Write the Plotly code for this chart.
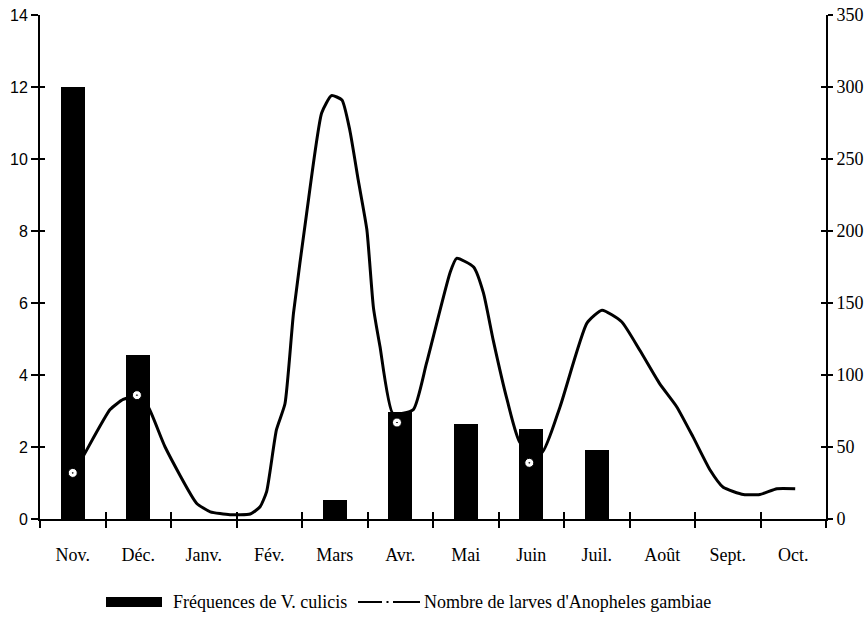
import plotly.graph_objects as go

# ---- data ----
months = ["Nov.", "Déc.", "Janv.", "Fév.", "Mars", "Avr.", "Mai", "Juin",
          "Juil.", "Août", "Sept.", "Oct."]
month_pos = list(range(len(months)))
freq_culicis = [12.0, 4.55, 0, 0, 0.53, 2.97, 2.64, 2.5, 1.92, 0, 0, 0]

# larvae curve (position in months, value on right axis)
larvae_x = [0.00, 0.14, 0.57, 0.77, 0.98, 1.15, 1.41, 1.89, 2.10, 2.40, 2.71,
            2.86, 2.96, 3.11, 3.24, 3.37, 3.57, 3.80, 3.95, 4.11, 4.23, 4.36,
            4.49, 4.59, 4.69, 4.89, 5.20, 5.40, 5.76, 5.86, 6.12, 6.27, 6.42,
            6.63, 6.83, 7.16, 7.44, 7.85, 8.08, 8.38, 8.66, 8.96, 9.22, 9.47,
            9.73, 9.93, 10.24, 10.49, 10.75, 11.03]
larvae_y = [32, 42, 76, 83, 85, 78, 50, 11, 5, 3, 3.5,
            8.5, 19, 62, 80, 143, 212, 282, 294, 291, 270, 235,
            201, 147, 120, 73, 76, 108, 171, 181, 175, 157, 124,
            83, 53, 46, 78, 136, 145, 137, 117, 94, 78, 57,
            34, 22, 17, 17, 21, 21]

# observation points (white markers)
obs_x = [0.0, 0.98, 4.95, 6.97]
obs_y = [32, 86, 67, 39]

left_ticks = [0, 2, 4, 6, 8, 10, 12, 14]
right_ticks = [0, 50, 100, 150, 200, 250, 300, 350]
boundaries = [i - 0.5 for i in range(len(months) + 1)]

legend_bar = "Fréquences de V. culicis"
legend_line = "Nombre de larves d'Anopheles gambiae"

SERIF = "Liberation Serif, Times New Roman, serif"
SANS = "Liberation Sans, Arial, sans-serif"

fig = go.Figure()

fig.add_trace(go.Scatter(
    x=larvae_x, y=larvae_y, mode="lines", xaxis="x", yaxis="y",
    line=dict(color="black", width=3, shape="spline", smoothing=0.5),
    showlegend=False, hoverinfo="skip"))

fig.add_trace(go.Bar(
    x=month_pos, y=freq_culicis, xaxis="x", yaxis="y2", width=0.37,
    marker=dict(color="black", line=dict(width=0)), showlegend=False))

fig.add_trace(go.Scatter(
    x=obs_x, y=obs_y, mode="markers", xaxis="x", yaxis="y3",
    marker=dict(symbol="circle-dot", size=9, color="white",
                line=dict(color="black", width=1)),
    showlegend=False, hoverinfo="skip"))

# empty traces to activate the inside-tick overlay axes
fig.add_trace(go.Scatter(x=[], y=[], xaxis="x2", yaxis="y", showlegend=False))
fig.add_trace(go.Scatter(x=[], y=[], xaxis="x", yaxis="y4", showlegend=False))

xr = [-0.5, len(months) - 0.5]

fig.update_layout(
    width=865, height=618,
    margin=dict(l=40, r=39, t=15, b=99),
    paper_bgcolor="white", plot_bgcolor="white",
    showlegend=False,
    bargap=0,
    xaxis=dict(
        range=xr, tickmode="array", tickvals=month_pos, ticktext=months,
        ticks="", showgrid=False, zeroline=False, automargin=False,
        showline=True, linecolor="black", linewidth=2,
        tickfont=dict(family=SERIF, size=18, color="black"),
        ticklabelstandoff=18,
        minor=dict(tickmode="array", tickvals=boundaries, ticks="outside",
                   ticklen=7, tickwidth=2, tickcolor="black", showgrid=False),
        anchor="y"),
    xaxis2=dict(
        range=xr, overlaying="x", anchor="y", side="bottom", automargin=False,
        tickmode="array", tickvals=boundaries, ticks="inside",
        ticklen=7, tickwidth=2, tickcolor="black",
        showticklabels=False, showgrid=False, zeroline=False, showline=False),
    yaxis=dict(
        range=[0, 350], side="right", anchor="x", automargin=False,
        tickmode="array", tickvals=right_ticks, ticks="outside",
        ticklen=5, tickwidth=2, tickcolor="black",
        showline=True, linecolor="black", linewidth=2,
        showgrid=False, zeroline=False,
        tickfont=dict(family=SERIF, size=18, color="black")),
    yaxis2=dict(
        range=[0, 14], side="left", overlaying="y", anchor="x", automargin=False,
        tickmode="array", tickvals=left_ticks, ticks="outside",
        ticklen=7, tickwidth=2, tickcolor="black",
        showline=True, linecolor="black", linewidth=2,
        showgrid=False, zeroline=False,
        tickfont=dict(family=SANS, size=16, color="black")),
    yaxis3=dict(
        range=[0, 350], side="right", overlaying="y", anchor="x", automargin=False,
        tickmode="array", tickvals=right_ticks, ticks="inside",
        ticklen=5, tickwidth=2, tickcolor="black",
        showticklabels=False, showline=False, showgrid=False, zeroline=False),
    yaxis4=dict(
        range=[0, 14], side="left", overlaying="y", anchor="x", automargin=False,
        tickmode="array", tickvals=left_ticks, ticks="inside",
        ticklen=5, tickwidth=2, tickcolor="black",
        showticklabels=False, showline=False, showgrid=False, zeroline=False),
)

# ---- custom legend (bottom) ----
def px_x(p):
    return (p - 40) / 786.0

def px_y(p):
    return (519 - p) / 504.0

ly = px_y(602)
fig.add_shape(type="rect", xref="paper", yref="paper",
              x0=px_x(106), x1=px_x(162), y0=px_y(607), y1=px_y(597),
              fillcolor="black", line=dict(width=0))
fig.add_annotation(xref="paper", yref="paper", x=px_x(171), y=ly,
                   xanchor="left", yanchor="middle", showarrow=False,
                   text=legend_bar,
                   font=dict(family=SERIF, size=18, color="black"))
for a, b in [(358, 382), (386.5, 388.5), (393, 420)]:
    fig.add_shape(type="line", xref="paper", yref="paper",
                  x0=px_x(a), x1=px_x(b), y0=ly, y1=ly,
                  line=dict(color="black", width=2))
fig.add_annotation(xref="paper", yref="paper", x=px_x(422), y=ly,
                   xanchor="left", yanchor="middle", showarrow=False,
                   text=legend_line,
                   font=dict(family=SERIF, size=18, color="black"))

fig.write_html("out.html")
